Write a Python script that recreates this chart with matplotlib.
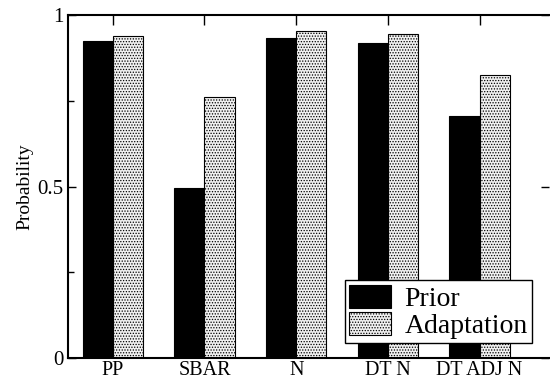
import matplotlib
matplotlib.use("Agg")
import matplotlib.pyplot as plt
import numpy as np

categories = ["PP", "SBAR", "N", "DT N", "DT ADJ N"]
prior = [0.924, 0.495, 0.934, 0.919, 0.706]
adaptation = [0.940, 0.760, 0.954, 0.946, 0.826]
series_labels = ["Prior", "Adaptation"]

plt.rcParams['font.family'] = ['Liberation Serif', 'DejaVu Serif']
plt.rcParams['hatch.linewidth'] = 0.6
plt.rcParams['hatch.color'] = '#8a8a8a'

fig = plt.figure(figsize=(5.5, 3.77), dpi=100)
ax = fig.add_axes([67.5/550, 19/377, (549-67.5)/550, 343/377])

x = np.arange(len(categories))
w = 0.33
ax.bar(x - w, prior, width=w, align='edge', color='black', edgecolor='black',
       linewidth=0.8, label=series_labels[0])
ax.bar(x, adaptation, width=w, align='edge', color='#f0f0f0', edgecolor='black',
       linewidth=0.8, hatch='......', label=series_labels[1])

ax.set_xlim(-0.494, 4.757)
ax.set_ylim(0, 1)

ax.spines['right'].set_visible(False)
for s in ['left', 'top', 'bottom']:
    ax.spines[s].set_linewidth(1.5)

# bottom: labels, no ticks
ax.set_xticks(x)
ax.set_xticklabels(categories, fontsize=14.5)
ax.tick_params(axis='x', which='major', bottom=True, length=0, pad=2.5)

# top ticks
ax2 = ax.secondary_xaxis('top')
ax2.set_xticks(x)
ax2.set_xticklabels([])
ax2.tick_params(axis='x', direction='in', length=7, width=1)
ax2.spines['top'].set_visible(False)

ax.set_yticks([0, 0.5, 1])
ax.set_yticklabels(["0", "0.5", "1"], fontsize=15)
ax.set_yticks([0.25, 0.75], minor=True)
ax.tick_params(axis='y', which='major', direction='in', length=6, width=1,
               right=True, pad=3)
ax.tick_params(axis='y', which='minor', direction='in', length=4, width=1,
               right=False)
ax.set_ylabel("Probability", fontsize=14, labelpad=3)

leg = ax.legend(loc='lower right', bbox_to_anchor=(532/550, 34/377),
                bbox_transform=fig.transFigure, borderaxespad=0,
                fontsize=20, frameon=True, fancybox=False, edgecolor='black',
                framealpha=1, handlelength=1.5, handleheight=0.9,
                handletextpad=0.5, labelspacing=0.0, borderpad=0.15)
leg.get_frame().set_linewidth(1.0)

fig.savefig("out.png", dpi=100)
